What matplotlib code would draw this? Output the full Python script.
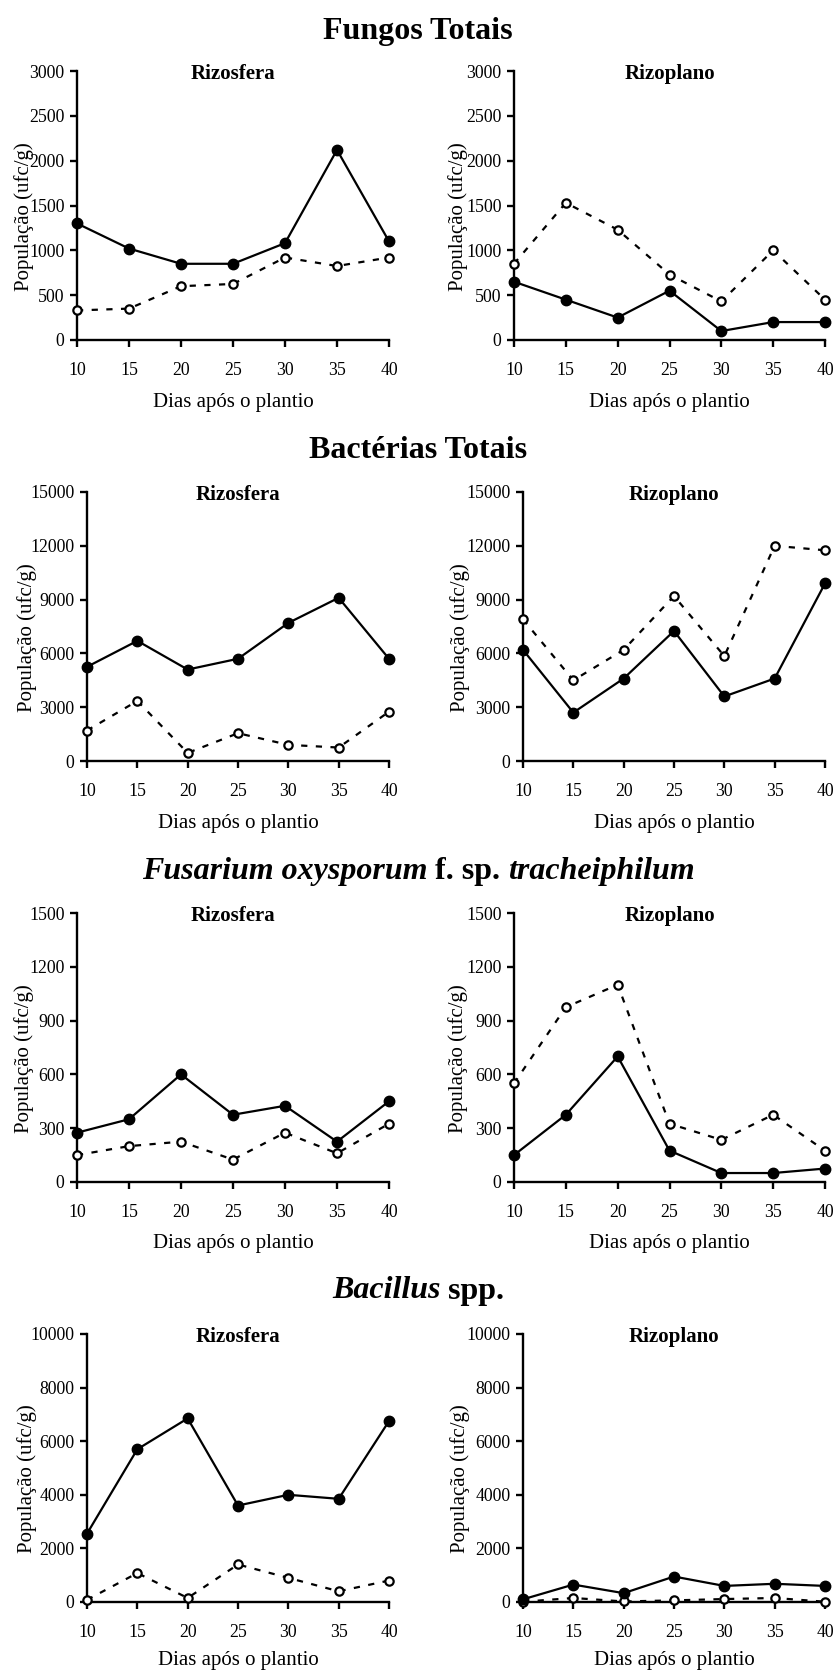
"""
População de fungos, bactérias, Fusarium e Bacillus na rizosfera e rizoplano
"""

import matplotlib
matplotlib.use("Agg")
import matplotlib.pyplot as plt
from matplotlib.offsetbox import TextArea, HPacker, AnchoredOffsetbox

plt.rcParams['font.family'] = ['Liberation Serif', 'DejaVu Serif']

# dados
dias = [10, 15, 20, 25, 30, 35, 40]

fungos_rizosfera_cheio = [1300, 1020, 850, 850, 1080, 2120, 1100]
fungos_rizosfera_aberto = [330, 350, 600, 625, 920, 825, 920]
fungos_rizoplano_cheio = [650, 450, 250, 550, 100, 200, 200]
fungos_rizoplano_aberto = [850, 1530, 1230, 730, 430, 1000, 450]

bact_rizosfera_cheio = [5250, 6700, 5100, 5700, 7700, 9100, 5700]
bact_rizosfera_aberto = [1700, 3350, 450, 1550, 900, 750, 2750]
bact_rizoplano_cheio = [6200, 2700, 4600, 7250, 3600, 4600, 9900]
bact_rizoplano_aberto = [7900, 4500, 6200, 9200, 5850, 12000, 11750]

fus_rizosfera_cheio = [275, 350, 600, 375, 425, 225, 450]
fus_rizosfera_aberto = [150, 200, 225, 125, 275, 160, 325]
fus_rizoplano_cheio = [150, 375, 700, 175, 50, 50, 75]
fus_rizoplano_aberto = [550, 975, 1100, 325, 235, 375, 175]

bac_rizosfera_cheio = [2550, 5700, 6850, 3600, 4000, 3850, 6750]
bac_rizosfera_aberto = [80, 1080, 150, 1400, 900, 400, 800]
bac_rizoplano_cheio = [100, 650, 330, 950, 600, 680, 600]
bac_rizoplano_aberto = [10, 150, 20, 60, 110, 150, 10]

y_max = [3000, 15000, 1500, 10000]
y_passo = [500, 3000, 300, 2000]

W, H = 836, 1672

# posições dos eixos em pixels (x0, y0, x1, y1)
caixas = [
    [(77, 71, 389, 340), (514, 71, 825, 340)],
    [(87, 492, 389, 761), (523, 492, 825, 761)],
    [(77, 913, 389, 1182), (514, 913, 825, 1182)],
    [(87, 1334, 389, 1602), (523, 1334, 825, 1602)],
]
xlabel_y = [-0.232, -0.232, -0.227, -0.218]
ylabel_x = [[-0.17, -0.18], [-0.20, -0.21], [-0.17, -0.18], [-0.20, -0.21]]

series = [
    [(fungos_rizosfera_cheio, fungos_rizosfera_aberto), (fungos_rizoplano_cheio, fungos_rizoplano_aberto)],
    [(bact_rizosfera_cheio, bact_rizosfera_aberto), (bact_rizoplano_cheio, bact_rizoplano_aberto)],
    [(fus_rizosfera_cheio, fus_rizosfera_aberto), (fus_rizoplano_cheio, fus_rizoplano_aberto)],
    [(bac_rizosfera_cheio, bac_rizosfera_aberto), (bac_rizoplano_cheio, bac_rizoplano_aberto)],
]

subtitulos = ['Rizosfera', 'Rizoplano']

# títulos: lista de (texto, itálico)
titulos = [
    [('Fungos Totais', False)],
    [('Bactérias Totais', False)],
    [('Fusarium oxysporum', True), ('f. sp.', False), ('tracheiphilum', True)],
    [('Bacillus', True), ('spp.', False)],
]
titulo_y = [31, 451, 871, 1291]

fig = plt.figure(figsize=(W / 100, H / 100), dpi=100)

for i in range(4):
    for j in range(2):
        x0, y0, x1, y1 = caixas[i][j]
        ax = fig.add_axes([x0 / W, 1 - y1 / H, (x1 - x0) / W, (y1 - y0) / H])
        cheio, aberto = series[i][j]

        ax.plot(dias, aberto, color='black', lw=1.6, ls=(0, (2.8, 3.8)),
                marker='o', markersize=6, markerfacecolor='white',
                markeredgecolor='black', markeredgewidth=1.6, clip_on=False, zorder=3)
        ax.plot(dias, cheio, color='black', lw=1.6, ls='-',
                marker='o', markersize=7.5, markerfacecolor='black',
                markeredgecolor='black', clip_on=False, zorder=4)

        ax.set_xlim(10, 40)
        ax.set_ylim(0, y_max[i])
        ax.set_xticks(dias)
        ax.set_yticks(range(0, y_max[i] + 1, y_passo[i]))

        for lado in ['top', 'right']:
            ax.spines[lado].set_visible(False)
        for lado in ['left', 'bottom']:
            ax.spines[lado].set_linewidth(1.7)
        ax.tick_params(direction='out', length=5, width=1.7, labelsize=12.8)
        ax.tick_params(axis='x', pad=11)
        ax.tick_params(axis='y', pad=4)

        ax.set_ylabel('População (ufc/g)', fontsize=15, va='center')
        ax.set_xlabel('Dias após o plantio', fontsize=15, va='center')
        ax.yaxis.set_label_coords(ylabel_x[i][j], 0.46)
        ax.xaxis.set_label_coords(0.5, xlabel_y[i])

        ax.text(0.5, 0.99, subtitulos[j], transform=ax.transAxes,
                ha='center', va='center', fontsize=15, fontweight='bold')

# títulos de cada linha
for i in range(4):
    partes = [TextArea(t, textprops=dict(fontsize=23, fontweight='bold',
                                         fontstyle='italic' if it else 'normal'))
              for t, it in titulos[i]]
    caixa = HPacker(children=partes, align='baseline', pad=0, sep=5.5)
    anc = AnchoredOffsetbox(loc='center', child=caixa, pad=0, borderpad=0, frameon=False,
                            bbox_to_anchor=(0.5, 1 - titulo_y[i] / H),
                            bbox_transform=fig.transFigure)
    fig.add_artist(anc)

fig.savefig('out.png', dpi=100)
